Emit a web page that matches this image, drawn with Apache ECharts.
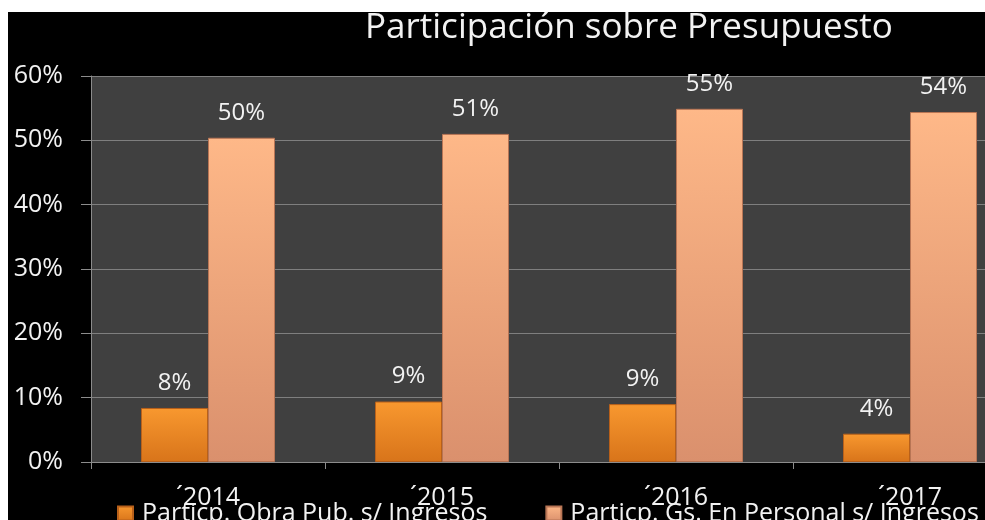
<!DOCTYPE html>
<html>
<head>
<meta charset="utf-8">
<script src="https://cdn.jsdelivr.net/npm/echarts@6/dist/echarts.min.js"></script>
<style>
html,body{margin:0;padding:0;background:#ffffff;width:985px;height:520px;overflow:hidden;position:relative;}
#chart{position:absolute;left:8px;top:12px;width:1019px;height:508px;background:#000000;}
</style>
</head>
<body>
<div id="chart"></div>
<script>
var titleText = 'Participación sobre Presupuesto';
var categories = ['´2014', '´2015', '´2016', '´2017'];
var seriesNames = ['Particp. Obra Pub. s/ Ingresos', 'Particp. Gs. En Personal s/ Ingresos'];
var obraPub = [8.4, 9.4, 9.0, 4.4];
var gsPersonal = [50.4, 51.0, 54.9, 54.4];
var yTicks = [0, 10, 20, 30, 40, 50, 60];

var FONT = '"Open Sans", "Noto Sans", sans-serif';
var TXT = '#f2f2f2';

function grad(top, bottom) {
  return new echarts.graphic.LinearGradient(0, 0, 0, 1, [
    {offset: 0, color: top},
    {offset: 1, color: bottom}
  ]);
}

var chart = echarts.init(document.getElementById('chart'), null, {renderer: 'canvas'});
chart.setOption({
  backgroundColor: '#000000',
  animation: false,
  textStyle: {fontFamily: FONT},
  title: {
    text: titleText,
    left: 352,
    top: -6,
    textStyle: {color: TXT, fontSize: 35, fontWeight: 'normal', fontFamily: FONT}
  },
  legend: {
    data: seriesNames,
    left: 104,
    top: 484,
    itemWidth: 15,
    itemHeight: 14,
    itemGap: 58,
    icon: 'rect',
    textStyle: {color: TXT, fontSize: 25, fontFamily: FONT, padding: [0, 0, 0, 4]}
  },
  grid: {
    left: 83,
    right: 0,
    top: 64,
    bottom: 58,
    show: true,
    backgroundColor: '#404040',
    borderWidth: 0,
    containLabel: false
  },
  xAxis: {
    type: 'category',
    data: categories,
    axisLine: {show: true, lineStyle: {color: '#8c8c8c', width: 1}},
    axisTick: {show: true, length: 7, lineStyle: {color: '#8c8c8c'}},
    axisLabel: {color: TXT, fontSize: 25, fontFamily: FONT, margin: 23},
    splitLine: {show: false}
  },
  yAxis: {
    type: 'value',
    min: yTicks[0],
    max: yTicks[yTicks.length - 1],
    interval: yTicks[1] - yTicks[0],
    axisLine: {show: true, lineStyle: {color: '#8c8c8c', width: 1}},
    axisTick: {show: true, length: 10, lineStyle: {color: '#8c8c8c'}},
    axisLabel: {color: TXT, fontSize: 25, fontFamily: FONT, margin: 28, formatter: '{value}%'},
    splitLine: {show: true, lineStyle: {color: '#7f7f7f', width: 1}}
  },
  series: [
    {
      name: seriesNames[0],
      type: 'bar',
      data: obraPub,
      barWidth: 67,
      barGap: '0%',
      itemStyle: {color: grad('#f8982f', '#d8741a'), borderColor: '#b8601a', borderWidth: 1},
      label: {show: true, position: 'top', distance: 13, color: TXT, fontSize: 24, fontFamily: FONT,
        formatter: function (p) { return Math.round(p.value) + '%'; }}
    },
    {
      name: seriesNames[1],
      type: 'bar',
      data: gsPersonal,
      barWidth: 67,
      barGap: '0%',
      itemStyle: {color: grad('#feb888', '#da906d'), borderColor: '#b87555', borderWidth: 1},
      label: {show: true, position: 'top', distance: 13, color: TXT, fontSize: 24, fontFamily: FONT,
        formatter: function (p) { return Math.round(p.value) + '%'; }}
    }
  ]
});
</script>
</body>
</html>
